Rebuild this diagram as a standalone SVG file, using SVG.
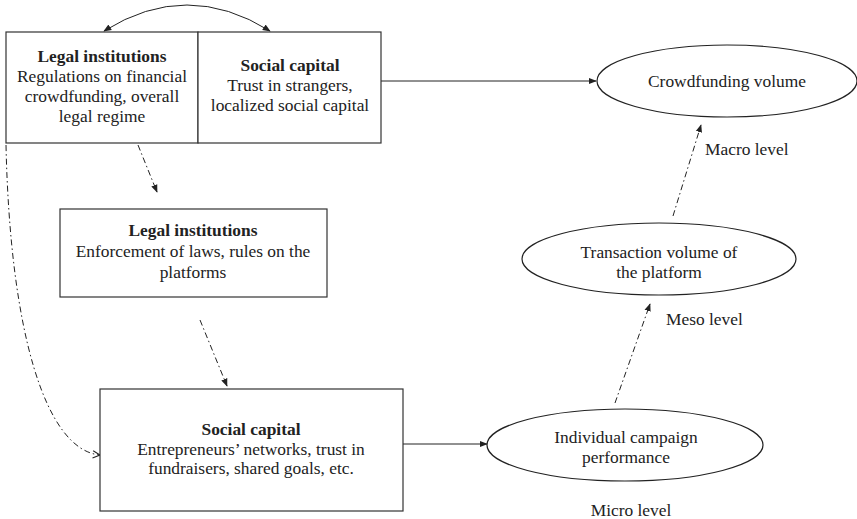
<svg xmlns="http://www.w3.org/2000/svg" width="857" height="519" viewBox="0 0 857 519">
<defs>
<style>
.box{fill:#fff;stroke:#333;stroke-width:1.2}
.ell{fill:#fff;stroke:#222;stroke-width:1.2}
text{font-family:"Liberation Serif","Times New Roman",serif;font-size:17.4px;fill:#222;text-anchor:middle}
.b{font-weight:bold}
.l{text-anchor:start}
.c{fill:none;stroke:#222;stroke-width:1}
.dd{stroke-dasharray:6 3 1.5 3}
</style>
<marker id="ah" viewBox="0 0 10 10" refX="9" refY="5" markerWidth="8" markerHeight="8" markerUnits="userSpaceOnUse" orient="auto">
<path d="M0,1 L10,5 L0,9 Z" fill="#222"/>
</marker>
<marker id="ahs" viewBox="0 0 10 10" refX="9" refY="5" markerWidth="8" markerHeight="8" markerUnits="userSpaceOnUse" orient="auto-start-reverse">
<path d="M0,1 L10,5 L0,9 Z" fill="#222"/>
</marker>
<marker id="open" viewBox="0 0 10 10" refX="9" refY="5" markerWidth="9" markerHeight="9" markerUnits="userSpaceOnUse" orient="auto">
<path d="M1,1 L9,5 L1,9" fill="none" stroke="#222" stroke-width="1.2"/>
</marker>
</defs>

<g id="connectors">
<path class="c" d="M104,31 Q187,-21 270,31" marker-start="url(#ahs)" marker-end="url(#ahs)"/>
<line class="c" x1="381" y1="81" x2="596" y2="81" marker-end="url(#ah)"/>
<line class="c dd" x1="138" y1="145" x2="157" y2="192" marker-end="url(#ah)"/>
<line class="c dd" x1="200" y1="320" x2="227" y2="386" marker-end="url(#ah)"/>
<path class="c dd" d="M6,145 C10,330 45,450 100,455" marker-end="url(#open)"/>
<line class="c" x1="403" y1="444" x2="487" y2="444" marker-end="url(#ah)"/>
<line class="c dd" x1="615" y1="403" x2="650" y2="304" marker-end="url(#ah)"/>
<line class="c dd" x1="673" y1="216" x2="701" y2="125" marker-end="url(#ah)"/>
</g>

<g id="legal-macro">
<rect class="box" x="6" y="32" width="192" height="111"/>
<text class="b" x="102" y="62">Legal institutions</text>
<text x="102" y="82">Regulations on financial</text>
<text x="102" y="102">crowdfunding, overall</text>
<text x="102" y="122">legal regime</text>
</g>

<g id="social-macro">
<rect class="box" x="198" y="32" width="183" height="111"/>
<text class="b" x="290" y="71">Social capital</text>
<text x="290" y="91">Trust in strangers,</text>
<text x="290" y="111">localized social capital</text>
</g>

<g id="legal-meso">
<rect class="box" x="60" y="209" width="267" height="88"/>
<text class="b" x="193" y="236">Legal institutions</text>
<text x="193" y="257">Enforcement of laws, rules on the</text>
<text x="193" y="278">platforms</text>
</g>

<g id="social-micro">
<rect class="box" x="100" y="389" width="303" height="122"/>
<text class="b" x="251" y="435">Social capital</text>
<text x="251" y="455">Entrepreneurs’ networks, trust in</text>
<text x="251" y="474">fundraisers, shared goals, etc.</text>
</g>

<g id="crowdfunding-volume">
<ellipse class="ell" cx="727" cy="81" rx="130" ry="36"/>
<text x="727" y="87">Crowdfunding volume</text>
</g>

<g id="transaction-volume">
<ellipse class="ell" cx="659" cy="259" rx="137" ry="36"/>
<text x="659" y="258">Transaction volume of</text>
<text x="659" y="278">the platform</text>
</g>

<g id="individual-performance">
<ellipse class="ell" cx="625" cy="445" rx="138" ry="36"/>
<text x="626" y="443">Individual campaign</text>
<text x="626" y="463">performance</text>
</g>

<g id="level-labels">
<text class="l" x="705" y="155">Macro level</text>
<text class="l" x="666" y="325">Meso level</text>
<text x="631" y="516">Micro level</text>
</g>
</svg>
